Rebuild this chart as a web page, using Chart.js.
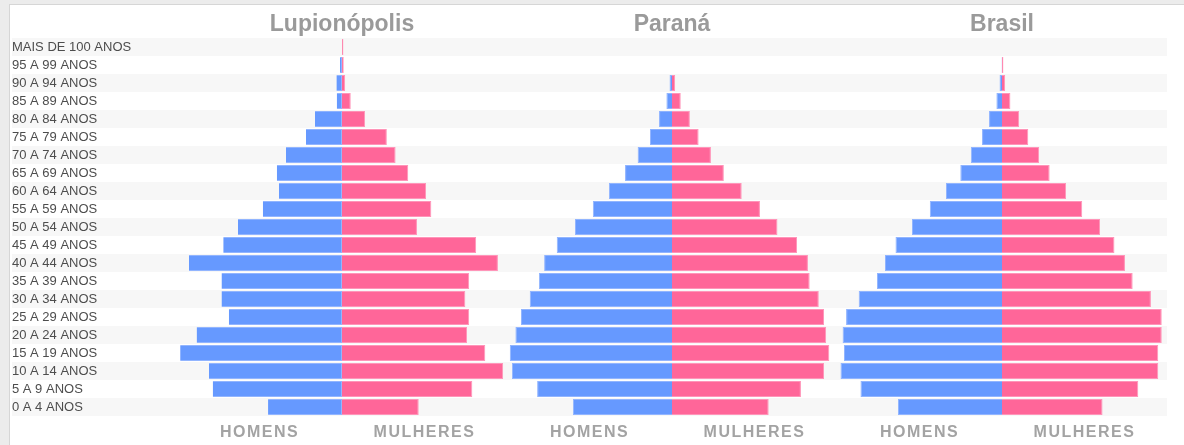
<!DOCTYPE html>
<html lang="pt-BR">
<head>
    <meta charset="UTF-8">
    <title>Pirâmides etárias</title>
    <script src="https://cdn.jsdelivr.net/npm/chart.js"></script>
    <style>
        body { margin: 0; background: #ececec; width: 1184px; height: 445px; overflow: hidden; }
        #panel { position: absolute; left: 9px; top: 4px; right: 0; bottom: 0; background: #fff;
                 border-left: 1px solid #d6d6d6; border-top: 1px solid #d6d6d6; }
        #chart { position: absolute; left: 0; top: 0; }
    </style>
</head>
<body>
<div id="panel"></div>
<canvas id="chart" width="1184" height="445"></canvas>

<script>
// faixas etárias, de cima para baixo
const faixas = [
    'MAIS DE 100 ANOS', '95 A 99 ANOS', '90 A 94 ANOS', '85 A 89 ANOS', '80 A 84 ANOS',
    '75 A 79 ANOS', '70 A 74 ANOS', '65 A 69 ANOS', '60 A 64 ANOS', '55 A 59 ANOS',
    '50 A 54 ANOS', '45 A 49 ANOS', '40 A 44 ANOS', '35 A 39 ANOS', '30 A 34 ANOS',
    '25 A 29 ANOS', '20 A 24 ANOS', '15 A 19 ANOS', '10 A 14 ANOS', '5 A 9 ANOS', '0 A 4 ANOS'
];

const locais = ['Lupionópolis', 'Paraná', 'Brasil'];

// % da população
const lupionopolisHomens   = [0, 0.06, 0.16, 0.15, 0.77, 1.03, 1.60, 1.86, 1.80, 2.26, 2.97, 3.39, 4.37, 3.44, 3.44, 3.23, 4.15, 4.62, 3.80, 3.69, 2.11];
const lupionopolisMulheres = [0.04, 0.05, 0.09, 0.25, 0.66, 1.28, 1.53, 1.89, 2.40, 2.55, 2.14, 3.83, 4.45, 3.63, 3.52, 3.63, 3.57, 4.09, 4.60, 3.72, 2.19];
const paranaHomens         = [0, 0, 0.07, 0.16, 0.37, 0.63, 0.98, 1.34, 1.80, 2.26, 2.77, 3.29, 3.65, 3.80, 4.06, 4.31, 4.47, 4.63, 4.57, 3.85, 2.83];
const paranaMulheres       = [0, 0, 0.09, 0.25, 0.51, 0.76, 1.11, 1.48, 1.99, 2.51, 3.01, 3.57, 3.88, 3.93, 4.19, 4.34, 4.40, 4.49, 4.34, 3.68, 2.76];
const brasilHomens         = [0, 0.01, 0.07, 0.16, 0.37, 0.57, 0.89, 1.19, 1.60, 2.06, 2.57, 3.04, 3.34, 3.57, 4.09, 4.45, 4.55, 4.51, 4.61, 4.04, 2.97];
const brasilMulheres       = [0, 0.04, 0.09, 0.24, 0.49, 0.75, 1.06, 1.36, 1.83, 2.29, 2.80, 3.21, 3.51, 3.73, 4.25, 4.56, 4.56, 4.46, 4.46, 3.89, 2.87];

const homens = [lupionopolisHomens, paranaHomens, brasilHomens];
const mulheres = [lupionopolisMulheres, paranaMulheres, brasilMulheres];

const MEIO = 4.71;               // meia largura de cada pirâmide
const centros = [0, 2 * MEIO, 4 * MEIO];

const datasets = [];
centros.forEach((c, i) => {
    datasets.push({
        label: 'Homens ' + locais[i],
        data: homens[i].map(v => [c - v, c]),
        backgroundColor: '#6699ff',
        borderColor: '#92b5ff',
        borderWidth: 1,
        borderSkipped: 'right',
        grouped: false
    });
    datasets.push({
        label: 'Mulheres ' + locais[i],
        data: mulheres[i].map(v => [c, c + v]),
        backgroundColor: '#ff6699',
        borderColor: '#ff95b9',
        borderWidth: 1,
        borderSkipped: 'left',
        grouped: false
    });
});

// listras cinza nas linhas pares
const listras = {
    id: 'listras',
    beforeDraw(chart) {
        const ctx = chart.ctx, y = chart.scales.y, area = chart.chartArea;
        const h = (area.bottom - area.top) / faixas.length;
        ctx.save();
        ctx.fillStyle = '#f7f7f7';
        faixas.forEach((f, i) => {
            if (i % 2 === 0) {
                const py = y.getPixelForValue(i);
                ctx.fillRect(12, py - h / 2, area.right - 12, h);
            }
        });
        ctx.restore();
    }
};

// títulos e rótulos HOMENS / MULHERES
const textos = {
    id: 'textos',
    afterDraw(chart) {
        const ctx = chart.ctx, x = chart.scales.x;
        ctx.save();
        ctx.textAlign = 'center';
        ctx.textBaseline = 'alphabetic';
        ctx.fillStyle = '#9a9a9a';
        ctx.font = 'bold 23px "Liberation Sans", Arial, sans-serif';
        centros.forEach((c, i) => ctx.fillText(locais[i], x.getPixelForValue(c), 31));
        ctx.font = 'bold 16px "Liberation Sans", Arial, sans-serif';
        ctx.fillStyle = '#a3a3a3';
        ctx.letterSpacing = '1.5px';
        centros.forEach(c => {
            ctx.fillText('HOMENS', x.getPixelForValue(c - MEIO / 2), 437);
            ctx.fillText('MULHERES', x.getPixelForValue(c + MEIO / 2), 437);
        });
        ctx.restore();
    }
};

new Chart(document.getElementById('chart'), {
    type: 'bar',
    data: { labels: faixas, datasets: datasets },
    options: {
        indexAxis: 'y',
        responsive: false,
        animation: false,
        layout: { padding: { top: 38, bottom: 29, left: 12, right: 17 } },
        datasets: { bar: { categoryPercentage: 1, barPercentage: 0.9 } },
        scales: {
            x: { display: false, min: -MEIO, max: 5 * MEIO },
            y: {
                grid: { display: false },
                border: { display: false },
                afterFit(scale) { scale.width = 165; },
                ticks: {
                    autoSkip: false,
                    crossAlign: 'far',
                    padding: 0,
                    color: '#4d4d4d',
                    font: { family: '"Liberation Sans", Arial, sans-serif', size: 13 }
                }
            }
        },
        plugins: { legend: { display: false }, tooltip: { enabled: false } }
    },
    plugins: [listras, textos]
});
</script>
</body>
</html>
